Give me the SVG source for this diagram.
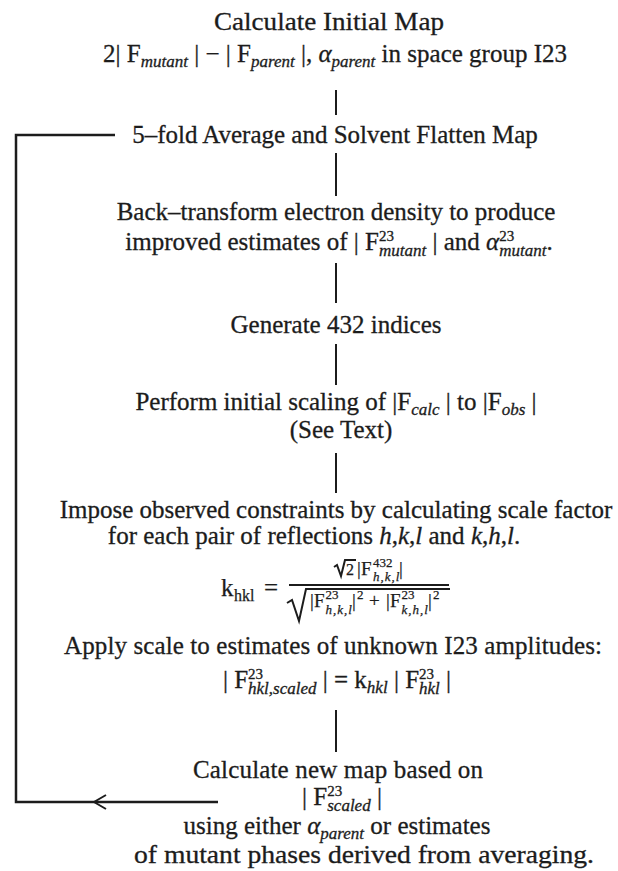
<svg xmlns="http://www.w3.org/2000/svg" width="618" height="871" viewBox="0 0 618 871">
<style>
.t{font-family:"Liberation Serif",serif;font-size:25px;fill:#1c1c1c;stroke:#1c1c1c;stroke-width:0.3;text-anchor:middle}
.m{font-family:"Liberation Serif",serif;font-size:19px;fill:#1c1c1c;stroke:#1c1c1c;stroke-width:0.25}
.big{font-size:25px}
.kh{font-size:16px}
.two{font-size:16px}
.sub{font-size:17px;font-style:italic}
.sup{font-size:15px}
.it{font-style:italic}
.ms{font-size:13px}
.msi{font-size:13px;font-style:italic;letter-spacing:1px}
.c{fill:none;stroke:#1c1c1c;stroke-width:2}
.loop{fill:none;stroke:#1c1c1c;stroke-width:2.5}
</style>
<defs>
<marker id="chev" viewBox="0 0 14 16" refX="13" refY="8" markerWidth="14" markerHeight="16" markerUnits="userSpaceOnUse" orient="auto">
<path d="M1 1 L13 8 L1 15" fill="none" stroke="#1c1c1c" stroke-width="2"/>
</marker>
</defs>
<rect width="618" height="871" fill="#ffffff"/>
<g id="connectors">
<path class="c" d="M336 90 V115"/>
<path class="c" d="M336 153 V196"/>
<path class="c" d="M336 263 V303"/>
<path class="c" d="M336 344 V385"/>
<path class="c" d="M336 453 V493"/>
<path class="c" d="M336 710 V752"/>
<path class="loop" d="M94 802 H16 V135 H115"/>
<path class="loop" d="M218 802 H94" marker-end="url(#chev)"/>
</g>
<g id="n1">
<text class="t" x="329" y="30" textLength="230" lengthAdjust="spacingAndGlyphs">Calculate Initial Map</text>
<text class="t" x="335" y="62">2| F<tspan class="sub" dy="5">mutant</tspan><tspan dy="-5"> | − | F</tspan><tspan class="sub" dy="5">parent</tspan><tspan dy="-5"> |, </tspan><tspan class="it">α</tspan><tspan class="sub" dy="5">parent</tspan><tspan dy="-5"> in space group I23</tspan></text>
</g>
<g id="n2">
<text class="t" x="335" y="143">5–fold Average and Solvent Flatten Map</text>
</g>
<g id="n3">
<text class="t" x="336" y="220">Back–transform electron density to produce</text>
<text class="t" x="339" y="250">improved estimates of | F<tspan class="sup" dy="-9">23</tspan><tspan class="sub" dx="-15" dy="15">mutant</tspan><tspan dy="-6"> | and </tspan><tspan class="it">α</tspan><tspan class="sup" dy="-9">23</tspan><tspan class="sub" dx="-15" dy="15">mutant</tspan><tspan dy="-6">.</tspan></text>
</g>
<g id="n4">
<text class="t" x="336" y="333">Generate 432 indices</text>
</g>
<g id="n5">
<text class="t" x="336" y="410">Perform initial scaling of |F<tspan class="sub" dy="5">calc</tspan><tspan dy="-5"> | to |F</tspan><tspan class="sub" dy="5">obs</tspan><tspan dy="-5"> |</tspan></text>
<text class="t" x="341" y="438">(See Text)</text>
</g>
<g id="n6">
<text class="t" x="336" y="518">Impose observed constraints by calculating scale factor</text>
<text class="t" x="314" y="544">for each pair of reflections <tspan class="it">h</tspan>,<tspan class="it">k</tspan>,<tspan class="it">l</tspan> and <tspan class="it">k</tspan>,<tspan class="it">h</tspan>,<tspan class="it">l</tspan>.</text>
<text class="m big" x="221" y="596">k</text>
<text class="m kh" x="234" y="601">hkl</text>
<text class="m big" x="264" y="596">=</text>
<path class="c" stroke-width="1.2" d="M334 567 L337 565 L341 576 L345 560 L356 560"/>
<text class="m two" x="346" y="575">2</text>
<text class="m" x="357" y="575">|</text>
<text class="m" x="361" y="575">F</text>
<text class="m ms" x="373" y="567">432</text>
<text class="m msi" x="373" y="581">h,k,l</text>
<text class="m" x="399" y="575">|</text>
<path class="c" stroke-width="1.6" d="M289 585 H449"/>
<path class="c" stroke-width="1.4" d="M287 603 L292 600 L299 621 L306 589 H450"/>
<text class="m" x="310" y="607">|</text>
<text class="m" x="314" y="607">F</text>
<text class="m ms" x="325.5" y="599">23</text>
<text class="m msi" x="325.5" y="614">h,k,l</text>
<text class="m" x="352" y="607">|</text>
<text class="m ms" x="357" y="599">2</text>
<text class="m" x="369" y="607">+</text>
<text class="m" x="386" y="607">|</text>
<text class="m" x="390" y="607">F</text>
<text class="m ms" x="401.5" y="599">23</text>
<text class="m msi" x="401.5" y="614">k,h,l</text>
<text class="m" x="428" y="607">|</text>
<text class="m ms" x="433" y="599">2</text>
</g>
<g id="n7">
<text class="t" x="333" y="654" textLength="538">Apply scale to estimates of unknown I23 amplitudes:</text>
<text class="t" x="337" y="688">| F<tspan class="sup" dy="-9">23</tspan><tspan class="sub" dx="-15" dy="15">hkl,scaled</tspan><tspan dy="-6"> | = k</tspan><tspan class="sub" dy="5">hkl</tspan><tspan dy="-5"> | F</tspan><tspan class="sup" dy="-9">23</tspan><tspan class="sub" dx="-15" dy="15">hkl</tspan><tspan dy="-6"> |</tspan></text>
</g>
<g id="n8">
<text class="t" x="338" y="778" textLength="290">Calculate new map based on</text>
<text class="t" x="342" y="805">| F<tspan class="sup" dy="-9">23</tspan><tspan class="sub" dx="-15" dy="15">scaled</tspan><tspan dy="-6"> |</tspan></text>
<text class="t" x="337" y="834">using either <tspan class="it">α</tspan><tspan class="sub" dy="5">parent</tspan><tspan dy="-5"> or estimates</tspan></text>
<text class="t" x="364" y="863" textLength="460" lengthAdjust="spacingAndGlyphs">of mutant phases derived from averaging.</text>
</g>
</svg>
